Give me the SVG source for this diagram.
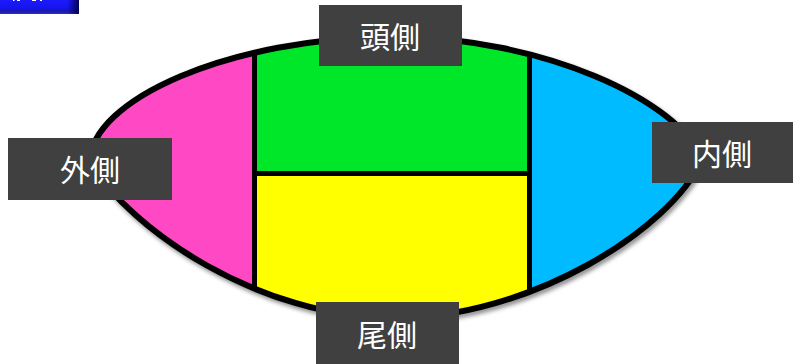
<svg xmlns="http://www.w3.org/2000/svg" width="793" height="364" viewBox="0 0 793 364">
  <style>
    .lbl rect { fill: #404040; }
    .lbl text { fill: #ffffff; font-family: "Noto Sans CJK JP", "Noto Sans CJK SC", sans-serif; font-size: 30px; text-anchor: middle; }
    .line { stroke: #000; stroke-width: 5; fill: none; }
    .outline { stroke: #000; stroke-width: 6; fill: none; }
  </style>
  <defs>
    <clipPath id="eye">
      <path d="M90,162 C90,100 230,37 395,37 C540,37 680,100 702,160 C670,230 530,318 395,318 C260,318 130,230 90,162 Z"/>
    </clipPath>
    <filter id="sh" x="-10%" y="-10%" width="120%" height="130%">
      <feGaussianBlur stdDeviation="2"/>
    </filter>
    <linearGradient id="bv" x1="0" y1="0" x2="0" y2="1">
      <stop offset="0" stop-color="#1b1bff"/>
      <stop offset="0.65" stop-color="#1414e8"/>
      <stop offset="0.75" stop-color="#1a1aa8"/>
      <stop offset="0.92" stop-color="#2020c0"/>
      <stop offset="1" stop-color="#2a2aff"/>
    </linearGradient>
    <linearGradient id="bh" x1="0" y1="0" x2="1" y2="0">
      <stop offset="0.85" stop-color="#000040" stop-opacity="0"/>
      <stop offset="1" stop-color="#000040" stop-opacity="0.9"/>
    </linearGradient>
  </defs>

  <g id="corner-button">
    <rect x="0" y="0" width="79" height="14" fill="url(#bv)"/>
    <rect x="0" y="0" width="79" height="14" fill="url(#bh)"/>
    <rect x="13" y="0" width="1.5" height="1" fill="#fff"/>
    <rect x="17" y="0" width="3" height="1" fill="#fff"/>
    <rect x="32" y="0" width="4" height="1" fill="#fff"/>
    <rect x="40" y="0" width="2" height="1" fill="#fff"/>
  </g>

  <g id="shadow">
    <path d="M90,162 C90,100 230,37 395,37 C540,37 680,100 702,160 C670,230 530,318 395,318 C260,318 130,230 90,162 Z" transform="translate(2,3)" fill="none" stroke="#000" stroke-opacity="0.45" stroke-width="6" filter="url(#sh)"/>
  </g>

  <g id="regions" clip-path="url(#eye)">
    <rect id="outer" x="80" y="30" width="175" height="300" fill="#ff48c4"/>
    <rect id="head" x="255" y="30" width="275" height="144" fill="#00e629"/>
    <rect id="tail" x="255" y="174" width="275" height="156" fill="#ffff00"/>
    <rect id="inner" x="530" y="30" width="180" height="300" fill="#00bbff"/>
  </g>

  <g id="connectors">
    <line class="line" x1="254.5" y1="30" x2="254.5" y2="330" clip-path="url(#eye)"/>
    <line class="line" x1="529.5" y1="30" x2="529.5" y2="330" clip-path="url(#eye)"/>
    <line class="line" x1="254.5" y1="173.5" x2="529.5" y2="173.5"/>
    <path class="outline" d="M90,162 C90,100 230,37 395,37 C540,37 680,100 702,160 C670,230 530,318 395,318 C260,318 130,230 90,162 Z"/>
  </g>

  <g id="label-head" class="lbl">
    <rect x="319" y="5" width="143" height="61"/>
    <text x="390" y="48">頭側</text>
  </g>
  <g id="label-tail" class="lbl">
    <rect x="316" y="302" width="143" height="62"/>
    <text x="387" y="346">尾側</text>
  </g>
  <g id="label-outer" class="lbl">
    <rect x="8" y="138" width="164" height="62"/>
    <text x="90" y="181">外側</text>
  </g>
  <g id="label-inner" class="lbl">
    <rect x="652" y="122" width="141" height="61"/>
    <text x="722" y="165">内側</text>
  </g>
</svg>
